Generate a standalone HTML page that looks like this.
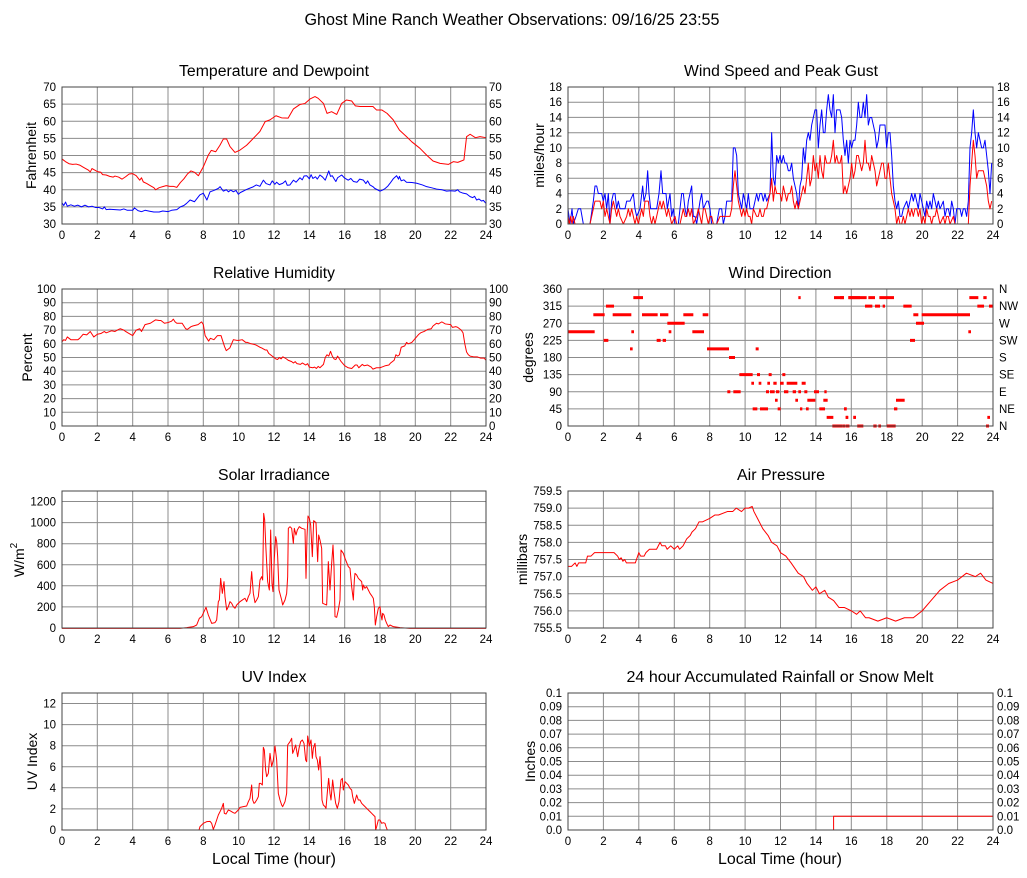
<!DOCTYPE html>
<html><head><meta charset="utf-8"><style>html,body{margin:0;padding:0;background:#fff}svg{display:block}</style></head><body>
<svg width="1027" height="878" xmlns="http://www.w3.org/2000/svg" font-family="'Liberation Sans', Arial, sans-serif" fill="#000">
<rect width="1027" height="878" fill="#fff"/>
<text x="512" y="25" font-size="17" text-anchor="middle" textLength="415" lengthAdjust="spacingAndGlyphs">Ghost Mine Ranch Weather Observations: 09/16/25 23:55</text>

<!-- titles -->
<g font-size="15.5" text-anchor="middle">
<text x="274" y="76" textLength="190" lengthAdjust="spacingAndGlyphs">Temperature and Dewpoint</text>
<text x="781" y="76" textLength="194" lengthAdjust="spacingAndGlyphs">Wind Speed and Peak Gust</text>
<text x="274" y="278" textLength="122" lengthAdjust="spacingAndGlyphs">Relative Humidity</text>
<text x="780" y="278" textLength="103" lengthAdjust="spacingAndGlyphs">Wind Direction</text>
<text x="274" y="480" textLength="112" lengthAdjust="spacingAndGlyphs">Solar Irradiance</text>
<text x="781" y="480" textLength="88" lengthAdjust="spacingAndGlyphs">Air Pressure</text>
<text x="274" y="682" textLength="65" lengthAdjust="spacingAndGlyphs">UV Index</text>
<text x="780" y="682" textLength="307" lengthAdjust="spacingAndGlyphs">24 hour Accumulated Rainfall or Snow Melt</text>
<text x="274" y="864" font-size="16" textLength="124" lengthAdjust="spacingAndGlyphs">Local Time (hour)</text>
<text x="780" y="864" font-size="16" textLength="124" lengthAdjust="spacingAndGlyphs">Local Time (hour)</text>
</g>

<!-- axis labels -->
<g font-size="14" text-anchor="middle">
<text transform="translate(36,155.5) rotate(-90)" textLength="67" lengthAdjust="spacingAndGlyphs">Fahrenheit</text>
<text transform="translate(544,155.5) rotate(-90)">miles/hour</text>
<text transform="translate(32,357.5) rotate(-90)">Percent</text>
<text transform="translate(533,357.5) rotate(-90)">degrees</text>
<text transform="translate(24,560) rotate(-90)">W/m<tspan font-size="10" dy="-7">2</tspan></text>
<text transform="translate(527,559.5) rotate(-90)">millibars</text>
<text transform="translate(37,761.5) rotate(-90)">UV Index</text>
<text transform="translate(535,761.5) rotate(-90)">Inches</text>
</g>

<!-- grids -->
<g stroke="#8c8c8c" stroke-width="1" fill="none">
<path d="M97.3 87V224M132.7 87V224M168 87V224M203.3 87V224M238.7 87V224M274 87V224M309.3 87V224M344.7 87V224M380 87V224M415.3 87V224M450.7 87V224
M62 206.9H486M62 189.8H486M62 172.6H486M62 155.5H486M62 138.4H486M62 121.3H486M62 104.1H486"/>
<path d="M97.3 289V426M132.7 289V426M168 289V426M203.3 289V426M238.7 289V426M274 289V426M309.3 289V426M344.7 289V426M380 289V426M415.3 289V426M450.7 289V426
M62 412.3H486M62 398.6H486M62 384.9H486M62 371.2H486M62 357.5H486M62 343.8H486M62 330.1H486M62 316.4H486M62 302.7H486"/>
<path d="M97.3 491V628M132.7 491V628M168 491V628M203.3 491V628M238.7 491V628M274 491V628M309.3 491V628M344.7 491V628M380 491V628M415.3 491V628M450.7 491V628
M62 606.9H486M62 585.8H486M62 564.8H486M62 543.7H486M62 522.6H486M62 501.5H486"/>
<path d="M97.3 693V830M132.7 693V830M168 693V830M203.3 693V830M238.7 693V830M274 693V830M309.3 693V830M344.7 693V830M380 693V830M415.3 693V830M450.7 693V830
M62 808.9H486M62 787.8H486M62 766.8H486M62 745.7H486M62 724.6H486M62 703.5H486"/>
<path d="M603.4 87V224M638.8 87V224M674.3 87V224M709.7 87V224M745.1 87V224M780.5 87V224M815.9 87V224M851.3 87V224M886.8 87V224M922.2 87V224M957.6 87V224
M568 208.8H993M568 193.6H993M568 178.3H993M568 163.1H993M568 147.9H993M568 132.7H993M568 117.4H993M568 102.2H993"/>
<path d="M603.4 289V426M638.8 289V426M674.3 289V426M709.7 289V426M745.1 289V426M780.5 289V426M815.9 289V426M851.3 289V426M886.8 289V426M922.2 289V426M957.6 289V426
M568 408.9H993M568 391.8H993M568 374.6H993M568 357.5H993M568 340.4H993M568 323.3H993M568 306.1H993"/>
<path d="M603.4 491V628M638.8 491V628M674.3 491V628M709.7 491V628M745.1 491V628M780.5 491V628M815.9 491V628M851.3 491V628M886.8 491V628M922.2 491V628M957.6 491V628
M568 610.9H993M568 593.8H993M568 576.6H993M568 559.5H993M568 542.4H993M568 525.3H993M568 508.1H993"/>
<path d="M603.4 693V830M638.8 693V830M674.3 693V830M709.7 693V830M745.1 693V830M780.5 693V830M815.9 693V830M851.3 693V830M886.8 693V830M922.2 693V830M957.6 693V830
M568 816.3H993M568 802.6H993M568 788.9H993M568 775.2H993M568 761.5H993M568 747.8H993M568 734.1H993M568 720.4H993M568 706.7H993"/>
</g>

<!-- data -->
<g fill="none" stroke-width="1" stroke-linejoin="round">
<g transform="translate(62,326.75) scale(17.667,-3.425)">
<polyline vector-effect="non-scaling-stroke" stroke="#0000ff" points="0,36.2 0.1,35.4 0.2,36.4 0.3,35.2 0.5,35.6 0.7,35.2 0.9,35.5 1.1,35.0 1.3,35.5 1.5,35.0 1.7,35.2 1.9,34.8 2.1,34.8 2.3,34.4 2.4,35 2.5,34.2 2.7,34.3 3,34.2 3.3,34.1 3.5,34.4 3.7,34 4,34 4.1,34.7 4.3,33.9 4.5,33.6 4.7,34 5,33.7 5.2,33.5 5.5,33.5 5.7,33.8 6,33.6 6.2,34 6.5,34.2 6.7,35 6.9,35.4 7.05,36 7.25,37 7.5,36.5 7.8,38.5 8,39 8.2,37 8.38,39.4 8.6,39.8 8.85,40.4 8.95,40.9 9.13,39.6 9.3,40 9.42,39.4 9.55,39.9 9.7,39.4 9.85,39.8 9.98,38.7 10.1,39.2 10.26,39.6 10.45,40.1 10.6,40.4 10.8,40.8 11,41.4 11.2,41 11.4,42.8 11.55,41.8 11.77,41.4 11.9,42.6 12.05,41.6 12.15,42.2 12.3,41.5 12.5,41.9 12.65,42.6 12.75,41.3 12.9,41.4 13.1,42.8 13.25,42.2 13.47,43.5 13.6,42.9 13.7,44 13.85,44.1 14,43.2 14.1,44.4 14.2,43.3 14.35,43.8 14.45,43.1 14.6,44.3 14.75,43.7 14.9,42.8 15.1,45.5 15.2,43.9 15.3,44.1 15.4,43.2 15.5,42.4 15.6,43.5 15.83,44.3 16,43.4 16.2,42.8 16.35,43.3 16.5,42.4 16.7,42.2 16.85,43.1 17.06,42.8 17.2,41.8 17.3,42.6 17.43,41.4 17.6,40.9 17.7,40.4 17.85,40 18,39.6 18.15,39.9 18.3,40.4 18.45,41.1 18.57,41.9 18.75,43.2 18.94,44.1 19.05,43.1 19.1,43.9 19.2,42.6 19.35,42.9 19.5,42.2 19.8,42.1 20.08,41.9 20.4,41.4 20.64,40.9 20.9,40.6 21.2,40.2 21.5,40 21.77,39.6 22,39.7 22.25,39.6 22.4,40 22.5,39.4 22.7,39 22.9,38.8 23.1,38 23.25,37.7 23.35,38.1 23.47,37 23.6,37.3 23.75,36.7 23.85,36.9 24,36"/>
<polyline vector-effect="non-scaling-stroke" stroke="#ff0000" points="0,49 0.1,48.6 0.2,48.2 0.4,47.6 0.6,47.4 0.8,47.5 1,47.2 1.2,46.6 1.4,46 1.5,45.7 1.6,45.2 1.7,46.2 1.8,45.9 2,45.3 2.2,45.1 2.3,44.4 2.5,44.3 2.7,43.9 2.9,43.7 3,44 3.2,43.7 3.4,43.1 3.6,43.8 3.8,44.6 4,44.7 4.2,44.1 4.4,42.8 4.5,43.5 4.6,42.3 4.8,41.8 5,41.2 5.2,40.6 5.3,40 5.5,40.6 5.7,40.9 5.9,41.2 6.1,41 6.3,41 6.5,40.7 6.7,42.1 6.9,43.2 7.1,44.6 7.3,45.5 7.5,45.1 7.72,44.1 8,46.7 8.28,50.1 8.45,51.5 8.7,51.1 8.94,53 9.13,54.8 9.32,54.8 9.51,52.6 9.79,50.9 10.08,51.6 10.45,53 10.83,55 11.2,57 11.5,59.9 11.77,60.4 12.11,61.6 12.43,61 12.8,60.9 13.1,63.6 13.47,64.9 13.75,65.2 14.04,66.5 14.32,67.2 14.5,66.7 14.8,65.2 15,62.3 15.26,62.8 15.55,62 15.83,65.2 16.1,66.2 16.4,65.9 16.6,64.5 16.87,64.3 17.25,64.3 17.6,64.3 17.8,63.3 18.1,63.3 18.4,62.3 18.75,60.4 19.1,57.4 19.5,55.5 19.8,54 20.26,52.1 20.64,50.1 21,48.4 21.4,47.7 21.87,47.4 22.15,48.2 22.4,48 22.6,48.4 22.75,48.7 22.9,55.5 23.1,56.2 23.4,55.2 23.66,55.5 24,55.2"/>
</g>
<g transform="translate(62,426) scale(17.667,-1.37)">
<polyline vector-effect="non-scaling-stroke" stroke="#ff0000" points="0,61.5 0.1,63 0.2,62.5 0.3,65 0.4,64 0.5,63 0.9,63 1,64 1.2,67 1.4,66.5 1.6,69 1.7,67 1.8,65 2,67 2.2,67.5 2.4,69 2.5,68 2.6,68.5 2.8,69.5 3,69 3.2,70.5 3.3,71 3.5,70 3.6,69 3.8,67.5 4,66 4.2,70 4.4,71 4.5,69 4.7,74 5,75 5.3,77.5 5.5,77 5.6,77 5.8,75 6,75.5 6.2,76.5 6.3,78 6.4,76 6.5,75 6.8,75 7,71 7.1,70.5 7.3,72.5 7.4,73 7.7,74 7.9,76 8,74 8.1,66 8.3,62 8.4,64 8.6,63 8.8,66 9,66 9.2,58 9.3,55 9.5,57 9.7,63 9.9,62.5 10,62.5 10.2,63 10.4,61 10.5,61 10.7,60 10.9,59.5 11,59 11.2,57.5 11.3,57 11.5,55.5 11.6,55.5 11.7,53 11.8,52 11.9,51 12,50 12.1,49 12.2,48.5 12.3,50 12.4,49 12.5,50.5 12.7,49 12.8,48 13,47 13.1,46 13.2,47 13.3,45.5 13.5,45 13.6,46 13.8,44.5 13.9,45.5 14,43 14.2,42.5 14.3,43 14.4,42 14.5,43.5 14.6,42.5 14.8,45 14.9,50 15,52 15.1,51 15.2,54.5 15.3,51 15.4,49 15.5,48.5 15.6,51 15.8,47 16,44 16.2,42.5 16.4,42 16.6,44.5 16.7,44.5 16.8,42.5 17,45 17.1,44 17.3,44.5 17.5,43 17.6,41.5 17.8,42.5 18,42.5 18.2,43.5 18.3,44 18.5,44.5 18.6,46 18.8,48 18.9,52 19,51 19.1,52 19.2,57.5 19.4,58.5 19.5,61 19.6,60 19.8,61 20,64 20.2,67 20.3,68 20.5,69 20.7,70.5 20.9,71 21,73 21.2,75 21.3,74.5 21.5,76 21.7,74.5 22,74 22.1,72 22.3,72.5 22.4,72 22.6,70 22.7,68 22.8,60 22.9,54 23,52 23.1,51 23.3,50.5 23.5,50.5 23.7,49.5 23.9,49.5 24,48"/>
</g>
<g transform="translate(180,500) scale(0.33333)">
<polyline vector-effect="non-scaling-stroke" stroke="#ff0000" points="-354,385 0,385 20,383 40,380 50,375 58,355 65,350 72,335 78,322 85,345 95,370 105,368 110,360 115,305 118,300 122,235 127,280 132,245 135,290 140,330 145,320 150,305 155,310 160,320 165,325 170,315 180,305 190,298 195,295 200,305 205,290 210,280 215,215 220,280 225,308 230,300 235,290 240,240 245,230 248,240 251,40 254,60 258,150 263,245 268,270 272,90 276,250 279,275 283,175 287,110 290,125 293,170 297,270 305,300 308,315 315,300 320,280 323,230 325,85 330,80 335,85 340,130 343,85 348,105 352,90 358,80 365,85 375,88 378,235 381,110 384,48 388,55 392,75 397,170 401,62 408,68 413,185 416,105 420,120 425,145 428,310 435,313 440,315 445,185 450,270 455,190 459,135 462,200 465,350 470,352 475,330 480,300 483,150 490,160 495,175 505,200 510,205 515,260 520,300 523,240 525,220 530,225 535,235 540,240 545,245 548,270 550,255 555,265 560,260 565,270 570,280 575,287 580,295 583,320 586,375 590,350 595,325 600,320 603,345 606,360 608,340 612,345 616,360 620,370 625,380 630,375 640,380 660,383 690,385 918,385"/>
</g>
<g transform="translate(0,660) scale(0.33333)">
<polyline vector-effect="non-scaling-stroke" stroke="#ff0000" points="184,510 597,510 600,500 610,490 620,485 630,484 635,490 640,508 645,495 650,480 655,465 660,455 665,445 670,430 673,460 678,462 685,450 690,452 695,455 700,458 705,460 710,455 715,450 720,442 730,440 740,438 745,425 750,415 755,375 758,420 762,430 765,428 770,420 775,410 778,370 782,370 787,375 790,262 793,270 797,330 800,350 805,340 810,280 815,320 820,300 825,258 830,300 835,400 840,420 845,435 848,440 855,425 860,400 863,255 870,245 875,235 878,280 882,270 887,255 893,290 897,265 902,245 907,240 912,250 917,300 920,305 923,228 928,258 933,240 937,295 940,265 945,250 948,290 952,300 956,330 960,290 963,330 966,420 970,435 975,440 978,445 983,385 986,355 990,400 993,420 998,360 1002,395 1007,430 1012,445 1017,425 1020,390 1023,360 1027,355 1030,390 1035,365 1040,370 1045,375 1050,385 1055,390 1058,410 1063,430 1066,420 1070,405 1075,420 1080,420 1085,430 1090,435 1095,440 1100,445 1105,450 1110,455 1115,460 1120,465 1125,470 1127,510 1130,500 1135,480 1140,480 1145,490 1150,488 1155,490 1158,500 1162,510 1458,510"/>
</g>
<g transform="translate(560,224) scale(0.33333,-7.611)">
<polyline vector-effect="non-scaling-stroke" stroke="#0000ff" points="24,2 30,0 36,2 40,0 48,1 55,2 62,2 70,0 90,0 100,3 105,5 110,5 115,4 125,4 130,3 135,4 140,2 145,4 150,0 155,3 160,4 165,4 170,2 175,3 180,2 195,2 200,3 210,3 220,4 225,2 230,1 240,2 248,5 252,3 258,4 263,7 267,4 272,2 280,2 290,2 297,4 303,7 308,4 312,4 318,4 322,2 330,4 335,1 340,2 345,0 355,0 365,4 370,4 375,2 380,1 385,3 390,4 395,5 400,1 405,1 410,0 420,3 425,4 430,2 440,3 445,3 450,2 455,0 470,0 478,2 485,2 490,0 495,1 500,3 515,3 520,10 525,10 530,9 535,4 540,3 545,2 550,4 555,3 560,2 565,4 570,2 580,2 590,4 595,3 600,4 605,4 610,3 615,4 620,3 630,4 635,12 640,6 645,5 650,9 655,8 660,9 665,8 670,9 675,8 680,8 685,7 690,7 695,8 700,6 705,5 710,4 715,2 720,5 725,6 730,10 735,8 740,11 745,12 750,11 755,13 760,14 765,15 770,15 775,10 780,13 785,15 790,12 795,12 800,15 805,17 810,15 815,14 820,17 825,12 830,15 840,15 845,14 850,11 855,9 860,11 865,8 870,11 875,10 880,11 885,11 890,13 895,16 900,14 905,14 910,16 915,14 920,17 925,13 930,14 935,14 940,13 945,12 950,10 955,11 960,13 965,13 975,13 980,10 985,12 990,12 995,9 1000,5 1005,3 1010,2 1015,3 1020,1 1025,1 1030,2 1040,3 1045,2 1050,3 1055,4 1060,3 1065,4 1070,3 1075,2 1080,4 1090,2 1095,1 1100,3 1105,2 1110,3 1115,2 1120,4 1125,3 1130,2 1135,3 1140,2 1150,3 1155,1 1160,2 1165,2 1170,1 1175,3 1180,2 1185,0 1190,2 1200,2 1205,1 1210,2 1215,2 1220,1 1225,3 1230,10 1235,12 1240,15 1245,12 1250,10 1255,12 1260,11 1265,10 1270,10 1275,11 1280,9 1285,7 1290,4 1295,8"/>
<polyline vector-effect="non-scaling-stroke" stroke="#ff0000" points="24,1 28,0 32,1 36,0 40,1 45,0 50,0 90,0 100,2 105,3 115,3 120,3 125,2 130,3 135,1 140,2 145,1 150,0 155,2 160,3 165,2 170,1 175,2 180,1 190,0 200,1 205,2 210,1 215,2 220,1 225,0 230,1 235,0 240,1 245,2 250,1 255,3 260,3 265,3 270,1 275,0 280,1 285,0 290,1 295,2 300,3 305,2 310,3 315,2 320,1 325,2 330,1 335,0 345,1 350,0 360,0 365,1 370,2 375,1 380,1 385,2 390,1 395,2 400,0 410,1 415,2 420,1 425,0 430,2 435,2 440,1 445,0 450,1 455,1 460,0 470,0 480,1 490,1 500,1 510,1 515,2 520,5 525,7 530,5 535,3 540,2 545,1 550,2 555,1 560,2 565,1 570,1 575,0 580,2 590,1 595,1 600,2 605,1 610,1 615,2 620,2 625,3 630,4 635,6 640,3 645,5 650,4 660,4 665,3 670,5 675,4 680,3 685,4 690,4 695,5 700,3 705,2 710,3 715,2 720,3 725,4 730,5 735,4 740,6 745,8 750,5 755,6 760,9 765,7 770,8 775,6 780,9 785,7 790,6 795,9 800,8 805,8 810,8 815,9 820,11 825,8 830,9 835,8 840,8 845,9 850,4 855,5 860,4 865,5 870,6 875,8 880,6 885,7 890,9 895,9 900,8 905,7 910,8 915,11 920,8 925,8 930,7 935,9 940,8 945,7 950,5 955,6 960,7 965,8 970,8 975,6 980,6 985,8 990,6 995,4 1000,3 1005,2 1010,0 1015,1 1020,0 1025,0 1030,1 1035,0 1040,1 1045,2 1050,1 1055,2 1060,1 1065,2 1070,2 1075,1 1080,2 1085,0 1090,1 1095,0 1100,2 1105,1 1110,1 1115,0 1120,1 1125,1 1130,2 1135,1 1140,0 1150,1 1155,0 1160,1 1165,1 1170,0 1180,1 1185,0 1190,0 1225,0 1230,5 1235,8 1240,11 1245,9 1250,6 1255,7 1260,7 1265,7 1270,7 1275,6 1280,5 1285,3 1290,2 1295,3"/>
</g>
<g transform="translate(568,26503.875) scale(17.708,-34.25)">
<polyline vector-effect="non-scaling-stroke" stroke="#ff0000" points="0,757.3 0.2,757.3 0.4,757.4 0.5,757.3 0.6,757.4 1,757.4 1.1,757.6 1.3,757.6 1.5,757.7 2,757.7 2.6,757.7 2.8,757.6 2.9,757.5 3,757.55 3.1,757.45 3.2,757.5 3.3,757.4 3.5,757.4 3.8,757.4 4,757.7 4.1,757.6 4.3,757.6 4.4,757.7 4.6,757.8 5,757.8 5.2,758.0 5.3,757.9 5.5,757.9 5.6,757.8 5.8,757.9 6,757.8 6.2,757.9 6.3,757.8 6.5,757.9 6.7,758.1 6.9,758.2 7,758.3 7.2,758.4 7.4,758.6 7.6,758.6 8,758.7 8.3,758.8 8.5,758.8 9,758.9 9.3,758.9 9.5,759.0 9.8,758.9 10,759.0 10.2,759.0 10.4,759.05 10.5,758.9 10.7,758.7 11,758.4 11.3,758.2 11.5,758.0 11.8,757.9 12,757.7 12.3,757.6 12.6,757.4 13,757.1 13.3,757.0 13.5,756.8 13.8,756.6 14,756.7 14.2,756.5 14.5,756.6 14.7,756.4 15,756.3 15.3,756.1 15.6,756.1 16,756.0 16.3,755.9 16.5,756.0 16.8,755.8 17,755.8 17.5,755.7 18,755.8 18.5,755.7 19,755.8 19.5,755.8 20,756.0 20.5,756.3 21,756.6 21.5,756.8 22,756.9 22.5,757.1 23,757.0 23.3,757.1 23.6,756.9 24,756.8"/>
</g>
<polyline stroke="#ff0000" points="568,830 833.6,830 833.6,816.3 993,816.3"/>
</g>

<!-- wind direction dots -->
<g stroke="#ff0000" stroke-width="3">
<g transform="translate(560,0) scale(0.33333,1)">
<path d="M24 331.8H104M214 331.8H222M326 331.8H334M397 331.8H432
M100 314.7H134M158 314.7H214M246 314.7H293M300 314.7H325M370 314.7H400M428 314.7H445
M138 306.1H162
M220 297.6H249M715 297.6H722M822 297.6H852M865 297.6H900
M322 323.3H374
M131 340.4H145M290 340.4H302M308 340.4H318
M210 348.9H218M441 348.9H507M587 348.9H596
M507 357.5H525
M538 374.6H578M591 374.6H600M626 374.6H635M667 374.6H676
M574 383.2H582M596 383.2H604M622 383.2H630M640 383.2H650M660 383.2H671M680 383.2H712M725 383.2H737
M502 391.8H511M520 391.8H542M618 391.8H627M630 391.8H644M648 391.8H658M672 391.8H685M698 391.8H708M715 391.8H723M733 391.8H742M762 391.8H777M793 391.8H800
M645 400.3H653M706 400.3H714M742 400.3H766M790 400.3H803
M578 408.9H592M600 408.9H624M653 408.9H662M720 408.9H727M738 408.9H746M778 408.9H795M853 408.9H860
M800 417.4H820M857 417.4H864M880 417.4H888
M817 426H842M848 426H856M860 426H868M892 426H900"/>
</g>
<g transform="translate(840,0) scale(0.33333,1)">
<path d="M0 297.6H12M25 297.6H80M85 297.6H105M118 297.6H162M388 297.6H415M430 297.6H440
M75 306.1H97M105 306.1H120M128 306.1H135M190 306.1H215M412 306.1H432M447 306.1H460
M220 314.7H235M245 314.7H390
M228 323.3H252
M385 331.8H393
M210 340.4H225
M168 400.3H194
M12 408.9H20M162 408.9H172
M17 417.4H25M40 417.4H47M442 417.4H450
M0 426H8M17 426H28M52 426H70M100 426H110M115 426H123M140 426H167M438 426H447"/>
</g>
</g>

<!-- frames -->
<g fill="none" stroke="#444" stroke-width="1">
<rect x="62" y="87" width="424" height="137"/>
<rect x="62" y="289" width="424" height="137"/>
<rect x="62" y="491" width="424" height="137"/>
<rect x="62" y="693" width="424" height="137"/>
<rect x="568" y="87" width="425" height="137"/>
<rect x="568" y="289" width="425" height="137"/>
<rect x="568" y="491" width="425" height="137"/>
<rect x="568" y="693" width="425" height="137"/>
</g>

<!-- tick labels -->
<g font-size="11.5" fill="#000">
<g text-anchor="middle">
<text x="62" y="239">0</text><text x="97.3" y="239">2</text><text x="132.7" y="239">4</text><text x="168" y="239">6</text><text x="203.3" y="239">8</text><text x="238.7" y="239">10</text><text x="274" y="239">12</text><text x="309.3" y="239">14</text><text x="344.7" y="239">16</text><text x="380" y="239">18</text><text x="415.3" y="239">20</text><text x="450.7" y="239">22</text><text x="486" y="239">24</text>
<text x="62" y="441">0</text><text x="97.3" y="441">2</text><text x="132.7" y="441">4</text><text x="168" y="441">6</text><text x="203.3" y="441">8</text><text x="238.7" y="441">10</text><text x="274" y="441">12</text><text x="309.3" y="441">14</text><text x="344.7" y="441">16</text><text x="380" y="441">18</text><text x="415.3" y="441">20</text><text x="450.7" y="441">22</text><text x="486" y="441">24</text>
<text x="62" y="643">0</text><text x="97.3" y="643">2</text><text x="132.7" y="643">4</text><text x="168" y="643">6</text><text x="203.3" y="643">8</text><text x="238.7" y="643">10</text><text x="274" y="643">12</text><text x="309.3" y="643">14</text><text x="344.7" y="643">16</text><text x="380" y="643">18</text><text x="415.3" y="643">20</text><text x="450.7" y="643">22</text><text x="486" y="643">24</text>
<text x="62" y="845">0</text><text x="97.3" y="845">2</text><text x="132.7" y="845">4</text><text x="168" y="845">6</text><text x="203.3" y="845">8</text><text x="238.7" y="845">10</text><text x="274" y="845">12</text><text x="309.3" y="845">14</text><text x="344.7" y="845">16</text><text x="380" y="845">18</text><text x="415.3" y="845">20</text><text x="450.7" y="845">22</text><text x="486" y="845">24</text>
<text x="568" y="239">0</text><text x="603.4" y="239">2</text><text x="638.8" y="239">4</text><text x="674.3" y="239">6</text><text x="709.7" y="239">8</text><text x="745.1" y="239">10</text><text x="780.5" y="239">12</text><text x="815.9" y="239">14</text><text x="851.3" y="239">16</text><text x="886.8" y="239">18</text><text x="922.2" y="239">20</text><text x="957.6" y="239">22</text><text x="993" y="239">24</text>
<text x="568" y="441">0</text><text x="603.4" y="441">2</text><text x="638.8" y="441">4</text><text x="674.3" y="441">6</text><text x="709.7" y="441">8</text><text x="745.1" y="441">10</text><text x="780.5" y="441">12</text><text x="815.9" y="441">14</text><text x="851.3" y="441">16</text><text x="886.8" y="441">18</text><text x="922.2" y="441">20</text><text x="957.6" y="441">22</text><text x="993" y="441">24</text>
<text x="568" y="643">0</text><text x="603.4" y="643">2</text><text x="638.8" y="643">4</text><text x="674.3" y="643">6</text><text x="709.7" y="643">8</text><text x="745.1" y="643">10</text><text x="780.5" y="643">12</text><text x="815.9" y="643">14</text><text x="851.3" y="643">16</text><text x="886.8" y="643">18</text><text x="922.2" y="643">20</text><text x="957.6" y="643">22</text><text x="993" y="643">24</text>
<text x="568" y="845">0</text><text x="603.4" y="845">2</text><text x="638.8" y="845">4</text><text x="674.3" y="845">6</text><text x="709.7" y="845">8</text><text x="745.1" y="845">10</text><text x="780.5" y="845">12</text><text x="815.9" y="845">14</text><text x="851.3" y="845">16</text><text x="886.8" y="845">18</text><text x="922.2" y="845">20</text><text x="957.6" y="845">22</text><text x="993" y="845">24</text>
</g>
<g text-anchor="end">
<text x="56" y="228">30</text><text x="56" y="210.9">35</text><text x="56" y="193.8">40</text><text x="56" y="176.6">45</text><text x="56" y="159.5">50</text><text x="56" y="142.4">55</text><text x="56" y="125.3">60</text><text x="56" y="108.1">65</text><text x="56" y="91">70</text>
<text x="56" y="430">0</text><text x="56" y="416.3">10</text><text x="56" y="402.6">20</text><text x="56" y="388.9">30</text><text x="56" y="375.2">40</text><text x="56" y="361.5">50</text><text x="56" y="347.8">60</text><text x="56" y="334.1">70</text><text x="56" y="320.4">80</text><text x="56" y="306.7">90</text><text x="56" y="293">100</text>
<text x="56" y="632">0</text><text x="56" y="610.9">200</text><text x="56" y="589.8">400</text><text x="56" y="568.8">600</text><text x="56" y="547.7">800</text><text x="56" y="526.6">1000</text><text x="56" y="505.5">1200</text>
<text x="56" y="834">0</text><text x="56" y="812.9">2</text><text x="56" y="791.8">4</text><text x="56" y="770.8">6</text><text x="56" y="749.7">8</text><text x="56" y="728.6">10</text><text x="56" y="707.5">12</text>
<text x="562" y="228">0</text><text x="562" y="212.8">2</text><text x="562" y="197.6">4</text><text x="562" y="182.3">6</text><text x="562" y="167.1">8</text><text x="562" y="151.9">10</text><text x="562" y="136.7">12</text><text x="562" y="121.4">14</text><text x="562" y="106.2">16</text><text x="562" y="91">18</text>
<text x="562" y="430">0</text><text x="562" y="412.9">45</text><text x="562" y="395.8">90</text><text x="562" y="378.6">135</text><text x="562" y="361.5">180</text><text x="562" y="344.4">225</text><text x="562" y="327.3">270</text><text x="562" y="310.1">315</text><text x="562" y="293">360</text>
<text x="562" y="632">755.5</text><text x="562" y="614.9">756.0</text><text x="562" y="597.8">756.5</text><text x="562" y="580.6">757.0</text><text x="562" y="563.5">757.5</text><text x="562" y="546.4">758.0</text><text x="562" y="529.3">758.5</text><text x="562" y="512.1">759.0</text><text x="562" y="495">759.5</text>
<text x="562" y="834">0.0</text><text x="562" y="820.3">0.01</text><text x="562" y="806.6">0.02</text><text x="562" y="792.9">0.03</text><text x="562" y="779.2">0.04</text><text x="562" y="765.5">0.05</text><text x="562" y="751.8">0.06</text><text x="562" y="738.1">0.07</text><text x="562" y="724.4">0.08</text><text x="562" y="710.7">0.09</text><text x="562" y="697">0.1</text>
</g>
<g text-anchor="start">
<text x="489" y="228">30</text><text x="489" y="210.9">35</text><text x="489" y="193.8">40</text><text x="489" y="176.6">45</text><text x="489" y="159.5">50</text><text x="489" y="142.4">55</text><text x="489" y="125.3">60</text><text x="489" y="108.1">65</text><text x="489" y="91">70</text>
<text x="489" y="430">0</text><text x="489" y="416.3">10</text><text x="489" y="402.6">20</text><text x="489" y="388.9">30</text><text x="489" y="375.2">40</text><text x="489" y="361.5">50</text><text x="489" y="347.8">60</text><text x="489" y="334.1">70</text><text x="489" y="320.4">80</text><text x="489" y="306.7">90</text><text x="489" y="293">100</text>
<text x="997" y="228">0</text><text x="997" y="212.8">2</text><text x="997" y="197.6">4</text><text x="997" y="182.3">6</text><text x="997" y="167.1">8</text><text x="997" y="151.9">10</text><text x="997" y="136.7">12</text><text x="997" y="121.4">14</text><text x="997" y="106.2">16</text><text x="997" y="91">18</text>
<text x="999" y="430">N</text><text x="999" y="412.9">NE</text><text x="999" y="395.8">E</text><text x="999" y="378.6">SE</text><text x="999" y="361.5">S</text><text x="999" y="344.4">SW</text><text x="999" y="327.3">W</text><text x="999" y="310.1">NW</text><text x="999" y="293">N</text>
<text x="997" y="834">0.0</text><text x="997" y="820.3">0.01</text><text x="997" y="806.6">0.02</text><text x="997" y="792.9">0.03</text><text x="997" y="779.2">0.04</text><text x="997" y="765.5">0.05</text><text x="997" y="751.8">0.06</text><text x="997" y="738.1">0.07</text><text x="997" y="724.4">0.08</text><text x="997" y="710.7">0.09</text><text x="997" y="697">0.1</text>
</g>
</g>
</svg>
</body></html>
